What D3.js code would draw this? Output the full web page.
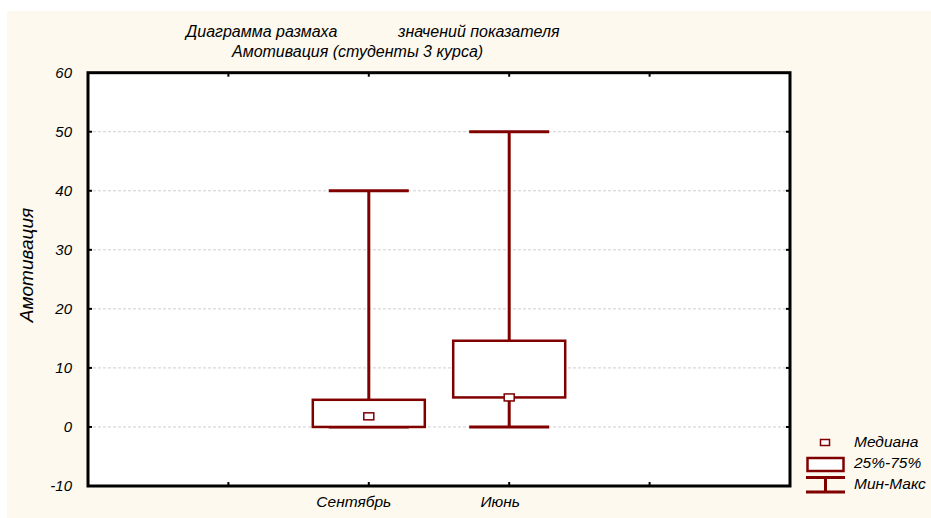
<!DOCTYPE html>
<html>
<head>
<meta charset="utf-8">
<script src="https://cdn.jsdelivr.net/npm/d3@7"></script>
<style>
  html, body { margin: 0; padding: 0; background: #fff; }
  svg { display: block; }
</style>
</head>
<body>
<script>
// values
const categories = ["Сентябрь", "Июнь"];
const slots = ["s0", "s1", "Сентябрь", "Июнь", "s4", "s5"];
const minValues = [0, 0];
const q1Values = [0, 5];
const medianValues = [1.8, 5];
const q3Values = [4.6, 14.6];
const maxValues = [40, 50];
const yTicks = [-10, 0, 10, 20, 30, 40, 50, 60];
const gridTicks = [0, 10, 20, 30, 40, 50];
const legendLabels = ["Медиана", "25%-75%", "Мин-Макс"];

const width = 931, height = 518;
const plotLeft = 88, plotRight = 790, plotTop = 72.7, plotBottom = 486;
const dark = "#800000";
const font = "'Liberation Sans', Arial, sans-serif";

const svg = d3.select("body").append("svg")
  .attr("width", width)
  .attr("height", height);

svg.append("rect")
  .attr("x", 7).attr("y", 11)
  .attr("width", width - 7).attr("height", height - 11)
  .attr("fill", "#fdf9ef");

const x = d3.scalePoint().domain(slots).range([plotLeft, plotRight]);
const y = d3.scaleLinear().domain([-10, 60]).range([plotBottom, plotTop]);

svg.append("rect")
  .attr("x", plotLeft).attr("y", plotTop)
  .attr("width", plotRight - plotLeft).attr("height", plotBottom - plotTop)
  .attr("fill", "#fff");

// grid
svg.append("g")
  .selectAll("line")
  .data(gridTicks)
  .join("line")
  .attr("x1", plotLeft).attr("x2", plotRight)
  .attr("y1", d => y(d)).attr("y2", d => y(d))
  .attr("stroke", "#cfcfcf")
  .attr("stroke-width", 1)
  .attr("stroke-dasharray", "3,2");

// y axis labels and ticks
svg.append("g")
  .selectAll("text")
  .data(yTicks)
  .join("text")
  .attr("x", 72)
  .attr("y", d => y(d))
  .attr("dy", "0.35em")
  .attr("text-anchor", "end")
  .attr("font-family", font)
  .attr("font-style", "italic")
  .attr("font-size", "15px")
  .attr("fill", "#000")
  .text(d => d);

svg.append("g")
  .selectAll("line")
  .data(gridTicks)
  .join("line")
  .attr("x1", plotLeft).attr("x2", plotLeft + 4)
  .attr("y1", d => y(d)).attr("y2", d => y(d))
  .attr("stroke", "#000")
  .attr("stroke-width", 2);

svg.append("g")
  .selectAll("line")
  .data(gridTicks)
  .join("line")
  .attr("x1", plotRight - 4).attr("x2", plotRight)
  .attr("y1", d => y(d)).attr("y2", d => y(d))
  .attr("stroke", "#000")
  .attr("stroke-width", 2);

// x ticks top and bottom
const inner = slots.slice(1, -1);
svg.append("g")
  .selectAll("line")
  .data(inner)
  .join("line")
  .attr("x1", d => x(d)).attr("x2", d => x(d))
  .attr("y1", plotTop).attr("y2", plotTop + 4)
  .attr("stroke", "#000")
  .attr("stroke-width", 2);
svg.append("g")
  .selectAll("line")
  .data(inner)
  .join("line")
  .attr("x1", d => x(d)).attr("x2", d => x(d))
  .attr("y1", plotBottom - 4).attr("y2", plotBottom)
  .attr("stroke", "#000")
  .attr("stroke-width", 2);

// boxes
const boxW = 112, capW = 80;
categories.forEach((cat, i) => {
  const cx = x(cat);
  const g = svg.append("g");
  g.append("line")
    .attr("x1", cx).attr("x2", cx)
    .attr("y1", y(maxValues[i])).attr("y2", y(q3Values[i]))
    .attr("stroke", dark).attr("stroke-width", 3);
  g.append("line")
    .attr("x1", cx).attr("x2", cx)
    .attr("y1", y(q1Values[i])).attr("y2", y(minValues[i]))
    .attr("stroke", dark).attr("stroke-width", 3);
  [maxValues[i], minValues[i]].forEach(v => {
    g.append("line")
      .attr("x1", cx - capW / 2).attr("x2", cx + capW / 2)
      .attr("y1", y(v)).attr("y2", y(v))
      .attr("stroke", dark).attr("stroke-width", 3);
  });
  g.append("rect")
    .attr("x", cx - boxW / 2)
    .attr("y", y(q3Values[i]))
    .attr("width", boxW)
    .attr("height", y(q1Values[i]) - y(q3Values[i]))
    .attr("fill", "#fff")
    .attr("stroke", dark).attr("stroke-width", 2.5);
  g.append("rect")
    .attr("x", cx - 5).attr("y", y(medianValues[i]) - 3.5)
    .attr("width", 10).attr("height", 7)
    .attr("fill", "#fff")
    .attr("stroke", dark).attr("stroke-width", 1.5);
});

// frame
svg.append("rect")
  .attr("x", plotLeft).attr("y", plotTop)
  .attr("width", plotRight - plotLeft).attr("height", plotBottom - plotTop)
  .attr("fill", "none")
  .attr("stroke", "#000")
  .attr("stroke-width", 3);

// category labels
svg.append("g")
  .selectAll("text")
  .data(categories)
  .join("text")
  .attr("x", (d, i) => x(d) + [-15, -9][i])
  .attr("y", 507)
  .attr("text-anchor", "middle")
  .attr("font-family", font)
  .attr("font-style", "italic")
  .attr("font-size", "15.5px")
  .attr("fill", "#000")
  .text(d => d);

// y title
svg.append("text")
  .attr("transform", "translate(33,265) rotate(-90)")
  .attr("text-anchor", "middle")
  .attr("font-family", font)
  .attr("font-style", "italic")
  .attr("font-size", "19px")
  .attr("fill", "#000")
  .text("Амотивация");

// title
const title = svg.append("g")
  .attr("font-family", font)
  .attr("font-style", "italic")
  .attr("font-size", "16px")
  .attr("fill", "#000");
title.append("text").attr("x", 186).attr("y", 37).text("Диаграмма размаха");
title.append("text").attr("x", 398).attr("y", 37).text("значений показателя");
title.append("text").attr("x", 232).attr("y", 57).text("Амотивация (студенты 3 курса)");

// legend
const lg = svg.append("g");
lg.append("rect")
  .attr("x", 820.5).attr("y", 439.5).attr("width", 9).attr("height", 6)
  .attr("fill", "#fff").attr("stroke", dark).attr("stroke-width", 1.5);
lg.append("rect")
  .attr("x", 807.5).attr("y", 458).attr("width", 36).attr("height", 13)
  .attr("fill", "#fff").attr("stroke", dark).attr("stroke-width", 2.5);
lg.append("line").attr("x1", 806).attr("x2", 845).attr("y1", 477.5).attr("y2", 477.5)
  .attr("stroke", dark).attr("stroke-width", 3);
lg.append("line").attr("x1", 806).attr("x2", 845).attr("y1", 492).attr("y2", 492)
  .attr("stroke", dark).attr("stroke-width", 3);
lg.append("line").attr("x1", 825.5).attr("x2", 825.5).attr("y1", 477.5).attr("y2", 492)
  .attr("stroke", dark).attr("stroke-width", 3);
lg.selectAll("text")
  .data(legendLabels)
  .join("text")
  .attr("x", 854)
  .attr("y", (d, i) => 447 + i * 21)
  .attr("font-family", font)
  .attr("font-style", "italic")
  .attr("font-size", "15.5px")
  .attr("fill", "#000")
  .text(d => d);
</script>
</body>
</html>
